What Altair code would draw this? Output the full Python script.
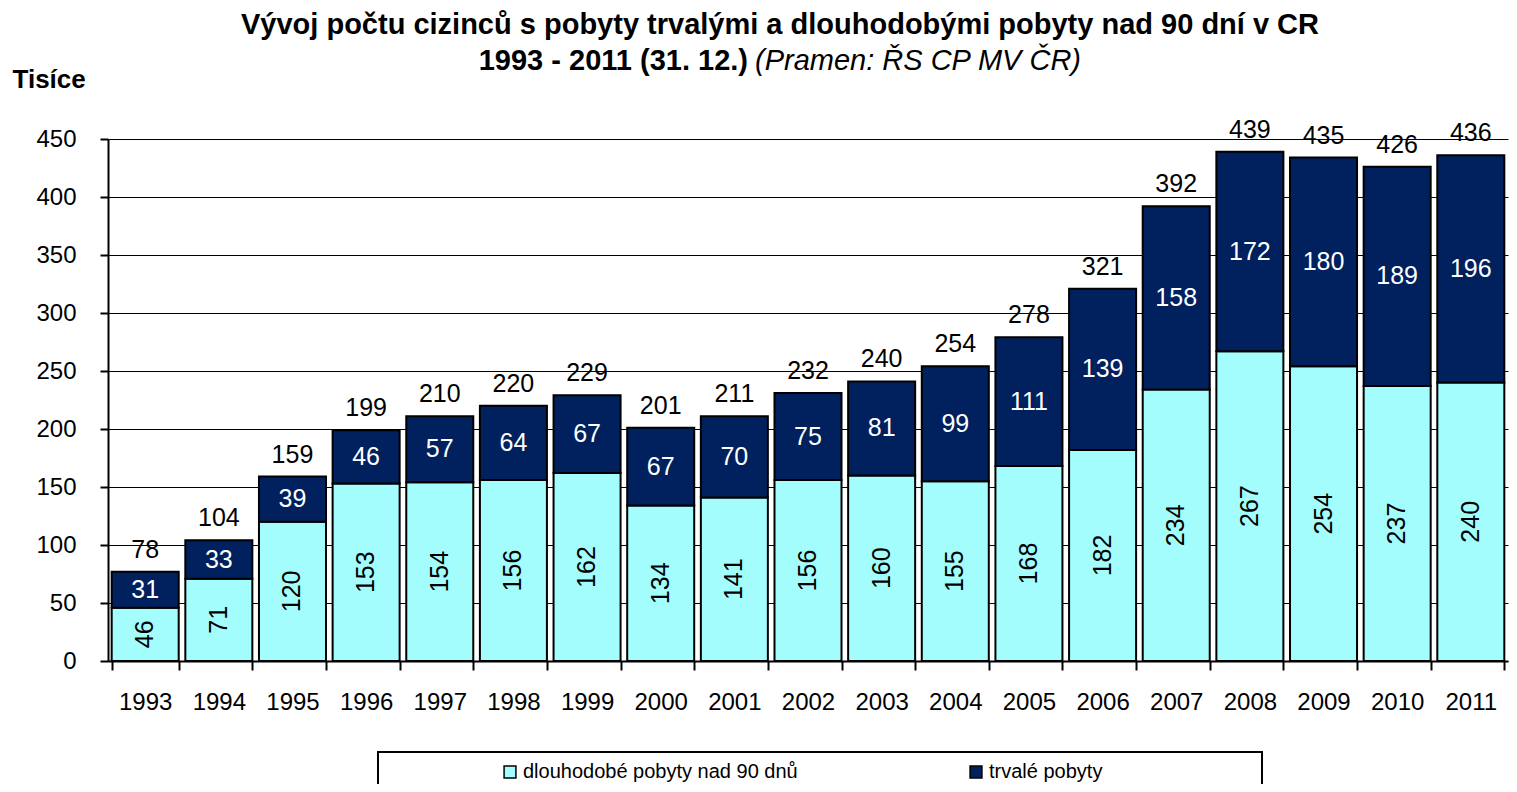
import altair as alt
import pandas as pd

years = [1993, 1994, 1995, 1996, 1997, 1998, 1999, 2000, 2001, 2002,
         2003, 2004, 2005, 2006, 2007, 2008, 2009, 2010, 2011]
dlouhodobe = [46, 71, 120, 153, 154, 156, 162, 134, 141, 156,
              160, 155, 168, 182, 234, 267, 254, 237, 240]
trvale = [31, 33, 39, 46, 57, 64, 67, 67, 70, 75,
          81, 99, 111, 139, 158, 172, 180, 189, 196]
totals = [78, 104, 159, 199, 210, 220, 229, 201, 211, 232,
          240, 254, 278, 321, 392, 439, 435, 426, 436]
y_ticks = [0, 50, 100, 150, 200, 250, 300, 350, 400, 450]

SER_DL = "dlouhodobé pobyty nad 90 dnů"
SER_TR = "trvalé pobyty"
LIGHT = "#A3FDFD"
DARK = "#00205E"
FONT = "Liberation Sans"

rows = []
for i, y in enumerate(years):
    rows.append({"rok": str(y), "serie": SER_DL, "hodnota": dlouhodobe[i], "poradi": 0})
    rows.append({"rok": str(y), "serie": SER_TR, "hodnota": trvale[i], "poradi": 1})
long_df = pd.DataFrame(rows)
wide_df = pd.DataFrame({"rok": [str(y) for y in years], "dl": dlouhodobe,
                        "tr": trvale, "celkem": totals})

year_order = [str(y) for y in years]
xscale = alt.Scale(domain=year_order, paddingInner=0.09, paddingOuter=0.05)
yscale = alt.Scale(domain=[0, 450], nice=False)

x_axis = alt.Axis(title=None, labelAngle=0, labelFontSize=24, labelColor="black",
                  labelFont=FONT, labelPadding=20, tickBand="extent", tickSize=9,
                  tickColor="black", tickWidth=2, domainColor="black", domainWidth=2,
                  grid=False)
y_axis = alt.Axis(title="Tisíce", titleAngle=0, titleX=-96, titleY=-60,
                  titleAlign="left", titleBaseline="middle", titleFontSize=26,
                  titleFontWeight="bold", titleFont=FONT, titleColor="black",
                  values=y_ticks, labelFontSize=24, labelFont=FONT, labelColor="black",
                  labelPadding=24, tickSize=8, tickColor="black", tickWidth=2,
                  domainColor="black", domainWidth=2, grid=True, gridColor="black",
                  gridWidth=1)

X = alt.X("rok:N", sort=year_order, scale=xscale, axis=x_axis)

bars = alt.Chart(long_df).mark_bar(stroke="black", strokeWidth=2).encode(
    x=X,
    y=alt.Y("hodnota:Q", stack="zero", scale=yscale, axis=y_axis),
    order=alt.Order("poradi:Q"),
    color=alt.Color("serie:N", scale=alt.Scale(domain=[SER_DL, SER_TR], range=[LIGHT, DARK]),
                    legend=alt.Legend(title=None, orient="none", legendX=392, legendY=623,
                                      direction="horizontal", symbolType="square",
                                      symbolSize=140, symbolStrokeColor="black",
                                      symbolStrokeWidth=1.5, labelFontSize=20,
                                      labelFont=FONT, labelColor="black", labelLimit=0,
                                      columnPadding=168, labelOffset=3, padding=0)),
)

lower_lbl = alt.Chart(wide_df).transform_calculate(mid="datum.dl / 2").mark_text(
    angle=270, fontSize=25, font=FONT, color="black", baseline="middle", align="center"
).encode(
    x=X,
    y=alt.Y("mid:Q", scale=yscale, axis=y_axis),
    text=alt.Text("dl:Q"),
)

upper_lbl = alt.Chart(wide_df).transform_calculate(mid="datum.dl + datum.tr / 2").mark_text(
    fontSize=25, font=FONT, color="white", baseline="middle", align="center"
).encode(
    x=X,
    y=alt.Y("mid:Q", scale=yscale, axis=y_axis),
    text=alt.Text("tr:Q"),
)

total_lbl = alt.Chart(wide_df).transform_calculate(top="datum.dl + datum.tr").mark_text(
    fontSize=25, font=FONT, color="black", baseline="middle", align="center", dy=-22
).encode(
    x=X,
    y=alt.Y("top:Q", scale=yscale, axis=y_axis),
    text=alt.Text("celkem:Q"),
)

ann_df = pd.DataFrame({
    "t": ["Vývoj počtu cizinců s pobyty  trvalými a dlouhodobými  pobyty  nad 90 dní  v CR"],
    "a": ["1993 - 2011 (31. 12.)"],
    "b": ["(Pramen: ŘS CP MV ČR)"],
})
title1 = alt.Chart(ann_df).mark_text(fontSize=29, font=FONT, fontWeight="bold",
                                     color="black", align="center", baseline="middle").encode(
    x=alt.value(672), y=alt.value(-114), text="t:N")
title2a = alt.Chart(ann_df).mark_text(fontSize=29, font=FONT, fontWeight="bold",
                                      color="black", align="right", baseline="middle").encode(
    x=alt.value(640), y=alt.value(-78), text="a:N")
title2b = alt.Chart(ann_df).mark_text(fontSize=29, font=FONT, fontStyle="italic",
                                      color="black", align="left", baseline="middle").encode(
    x=alt.value(647), y=alt.value(-78), text="b:N")

legend_box = alt.Chart(ann_df).mark_rect(fill="white", fillOpacity=0, stroke="black",
                                         strokeWidth=2).encode(
    x=alt.value(270), x2=alt.value(1154), y=alt.value(613), y2=alt.value(720))

chart = alt.layer(bars, lower_lbl, upper_lbl, total_lbl, title1, title2a, title2b,
                  legend_box).properties(
    width=1400, height=522,
    autosize=alt.AutoSizeParams(type="none"),
    padding={"left": 100, "top": 131, "right": 1, "bottom": 123},
).configure(font=FONT).configure_view(strokeWidth=0)

chart.save("out.html", embed_options={"renderer": "svg", "actions": False})
